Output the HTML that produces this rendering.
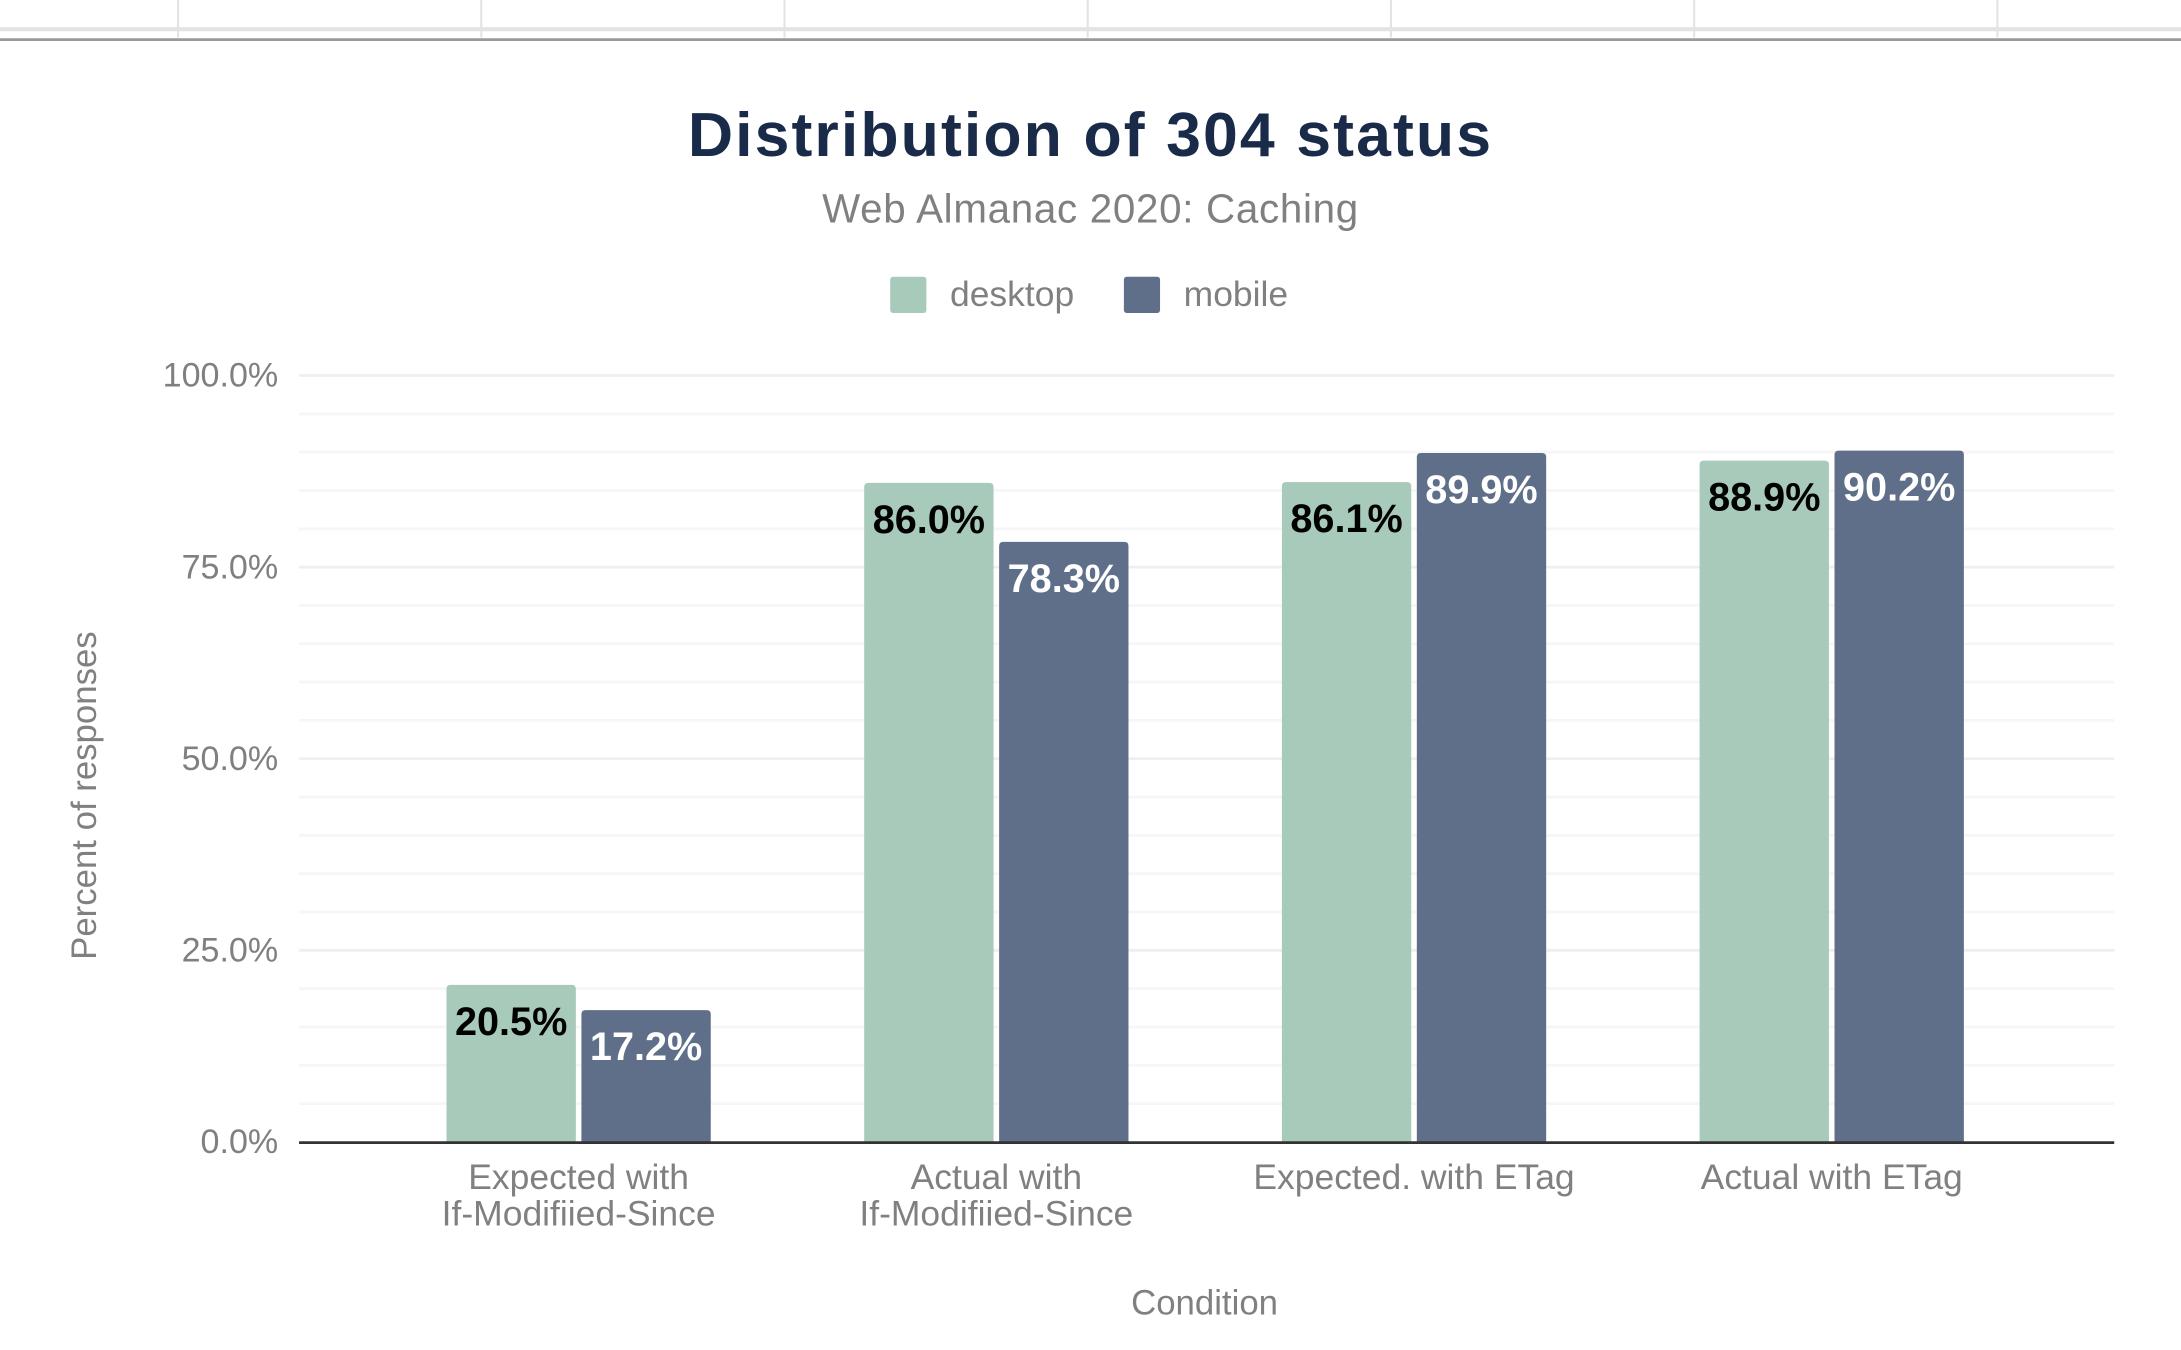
<!DOCTYPE html>
<html><head><meta charset="utf-8">
<style>
html,body{margin:0;padding:0;background:#fff;width:2181px;height:1350px;overflow:hidden}
svg{display:block;font-family:"Liberation Sans",Arial,sans-serif}
</style></head>
<body>
<svg id="chart" width="2181" height="1350" viewBox="0 0 1568 970.6" preserveAspectRatio="none" xmlns="http://www.w3.org/2000/svg">
  <g id="topframe">
    <line x1="0" y1="21" x2="1568" y2="21" stroke="#e2e4e4" stroke-width="3"/>
    <line x1="0" y1="28.5" x2="1568" y2="28.5" stroke="#999" stroke-width="2"/>
  </g>
  <text x="784" y="112" text-anchor="middle" font-size="45" font-weight="bold" letter-spacing="1.5" fill="#1a2b49">Distribution of 304 status</text>
  <text x="784" y="160" text-anchor="middle" font-size="29" letter-spacing="0.5" fill="#808080">Web Almanac 2020: Caching</text>
  <g>
    <g>
      <rect x="640" y="199" width="26" height="26" rx="2" fill="#a8cabb"/>
      <text x="683" y="220" font-size="25.5" fill="#808080">desktop</text>
    </g>
    <g>
      <rect x="808" y="199" width="26" height="26" rx="2" fill="#5f6f8a"/>
      <text x="851" y="220" font-size="25.5" fill="#808080">mobile</text>
    </g>
  </g>
  <g id="grid"></g>
  <g id="yticks"></g>
  <g id="bars"></g>
  <g id="xticks"></g>
  <line x1="215" y1="821.5" x2="1520" y2="821.5" stroke="#333" stroke-width="2"/>
  <text x="866" y="945" text-anchor="middle" font-size="25" fill="#808080">Condition</text>
  <text transform="translate(69,572) rotate(-90)" text-anchor="middle" font-size="25" fill="#808080">Percent of responses</text>
</svg>
<script>
const categories = [["Expected with","If-Modifiied-Since"],["Actual with","If-Modifiied-Since"],["Expected. with ETag"],["Actual with ETag"]];
const desktopValues = [20.5, 86.0, 86.1, 88.9];
const mobileValues = [17.2, 78.3, 89.9, 90.2];
const yTicks = [0, 25, 50, 75, 100];
const yTickLabels = ["0.0%","25.0%","50.0%","75.0%","100.0%"];

const NS = "http://www.w3.org/2000/svg";
const plotL = 215, plotR = 1520, y0 = 821, y100 = 270;
function yScale(v){ return y0 - (v/100)*(y0 - y100); }
const groupStep = 300.3, firstCenter = 416;
function xCenter(i){ return firstCenter + groupStep*i; }
function mk(tag, attrs, parent){ const e=document.createElementNS(NS,tag); for(const k in attrs) e.setAttribute(k,attrs[k]); parent.appendChild(e); return e; }

const tf = document.getElementById('topframe');
[128,346,564,782,1000,1218,1436].forEach(x=>{
  const l = mk('line',{x1:x,x2:x,y1:0,y2:27,stroke:'#e2e4e4','stroke-width':1.5},tf);
  
  
});

const grid = document.getElementById('grid');
for (let v=5; v<=100; v+=5){
  const l = mk('line',{x1:plotL,x2:plotR,y1:yScale(v),y2:yScale(v),stroke:(v%25===0)?'#efefef':'#f6f6f6','stroke-width':2},grid);
  
  
}
const yt = document.getElementById('yticks');
yTicks.forEach((v,i)=>{
  const t = mk('text',{x:200,y:yScale(v)+8,'text-anchor':'end','font-size':24.5,fill:'#808080'},yt);
  t.textContent = yTickLabels[i];
  
  
});
const bars = document.getElementById('bars');
const bw = 93, gap = 4;
function bar(i, v, isMobile){
  const cx = xCenter(i);
  const x = isMobile ? cx + gap/2 : cx - gap/2 - bw;
  const y = yScale(v);
  const r = mk('path',{d:`M${x},${y0} V${y+3} Q${x},${y} ${x+3},${y} H${x+bw-3} Q${x+bw},${y} ${x+bw},${y+3} V${y0} Z`,fill:isMobile?'#5f6f8a':'#a8cabb'},bars);
  
  
  const t = mk('text',{x:x+bw/2,y:y+36,'text-anchor':'middle','font-size':28.5,'font-weight':'bold',fill:isMobile?'#fff':'#000'},bars);
  t.textContent = v.toFixed(1)+'%';
  
  
}
categories.forEach((c,i)=>{ bar(i, desktopValues[i], false); bar(i, mobileValues[i], true); });
const xt = document.getElementById('xticks');
categories.forEach((lines,i)=>{
  lines.forEach((s,j)=>{
    const t = mk('text',{x:xCenter(i),y:855+26*j,'text-anchor':'middle','font-size':25.5,fill:'#808080'},xt);
    t.textContent = s;
    
    
  });
});
</script>
</body></html>
